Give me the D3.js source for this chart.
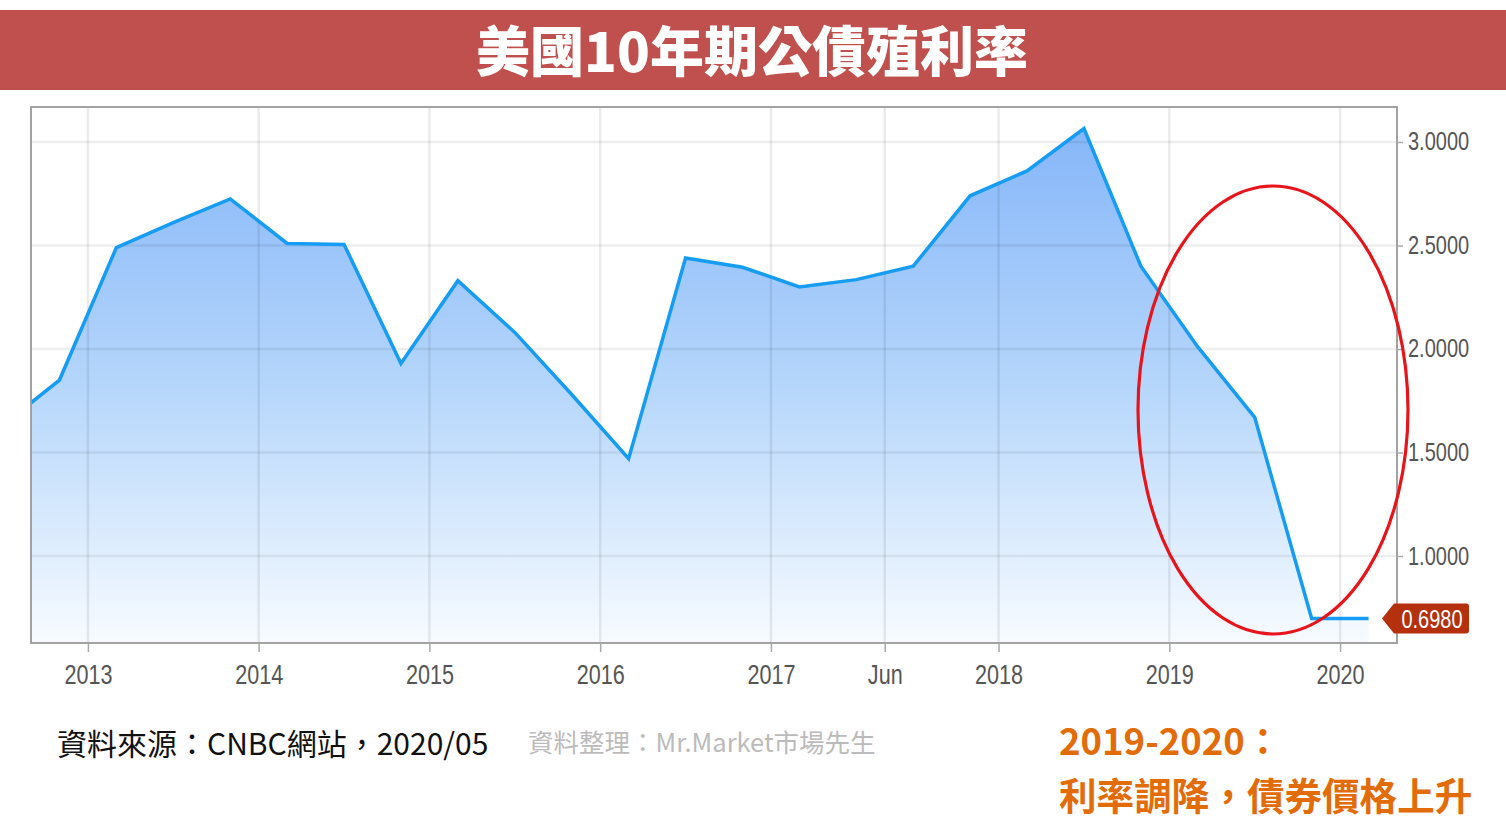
<!DOCTYPE html>
<html><head><meta charset="utf-8">
<script src="https://cdn.jsdelivr.net/npm/d3@7"></script>
<style>
html,body{margin:0;padding:0;background:#fff;}
svg{display:block;}
</style></head>
<body>
<svg id="chart" width="1506" height="839"></svg>
<script>
// ---- data ----
const titleText = "美國10年期公債殖利率";
// period position (index along evenly spaced sample points) and yield values
const periods = [-0.5, 0, 1, 2, 3, 4, 5, 6, 7, 8, 9, 10, 11, 12, 13, 14, 15, 16, 17, 18, 19, 20, 21, 22, 23];
const yields  = [1.74, 1.85, 2.49, 2.61, 2.725, 2.51, 2.505, 1.93, 2.33, 2.08, 1.78, 1.47, 2.44, 2.395, 2.30, 2.335, 2.40, 2.74, 2.86, 3.065, 2.40, 2.01, 1.67, 0.698, 0.698];
const xTickLabels = ["2013", "2014", "2015", "2016", "2017", "Jun", "2018", "2019", "2020"];
const xTickPos    = [0.5, 3.5, 6.5, 9.5, 12.5, 14.5, 16.5, 19.5, 22.5];
const yTicks = [1.0, 1.5, 2.0, 2.5, 3.0];
const lastValue = 0.698;
const sourceText = "資料來源：CNBC網站，2020/05";
const creditText = "資料整理：Mr.Market市場先生";
const noteLine1 = "2019-2020：";
const noteLine2 = "利率調降，債券價格上升";

const data = periods.map((p, i) => ({p, v: yields[i]}));

// ---- layout ----
const svg = d3.select("#chart");
const L = 31, R = 1397, T = 107, B = 643;
const x = d3.scaleLinear().domain([-0.5, 23.5]).range([L, R]);
const y = d3.scaleLinear().domain([0.5797, 3.169]).range([B, T]);
const cjk = "'Noto Sans CJK TC','Noto Sans CJK SC',sans-serif";
const numFont = "'Liberation Sans',Arial,sans-serif";
const squeeze = 0.8;

// title banner
svg.append("rect").attr("x", 0).attr("y", 10).attr("width", 1506).attr("height", 80).attr("fill", "#C0504D");
svg.append("text").attr("x", 752).attr("y", 72).attr("text-anchor", "middle")
  .attr("font-family", cjk).attr("font-weight", 900)
  .attr("font-size", 54).attr("fill", "#fff").text(titleText);

// gradient
const defs = svg.append("defs");
const grad = defs.append("linearGradient").attr("id", "fillGrad")
  .attr("gradientUnits", "userSpaceOnUse").attr("x1", 0).attr("x2", 0)
  .attr("y1", y(3.07)).attr("y2", B);
grad.append("stop").attr("offset", "0%").attr("stop-color", "#86B6F9");
grad.append("stop").attr("offset", "50%").attr("stop-color", "#B5D6FB");
grad.append("stop").attr("offset", "100%").attr("stop-color", "#F7FBFF");
defs.append("clipPath").attr("id", "plotClip").append("rect")
  .attr("x", L).attr("y", T).attr("width", R - L).attr("height", B - T);

const plot = svg.append("g").attr("clip-path", "url(#plotClip)");

// area
plot.append("path").datum(data)
  .attr("d", d3.area().x(d => x(d.p)).y0(B).y1(d => y(d.v)))
  .attr("fill", "url(#fillGrad)");

// gridlines (drawn over fill)
plot.append("g").selectAll("line").data(yTicks).join("line")
  .attr("x1", L).attr("x2", R).attr("y1", d => y(d)).attr("y2", d => y(d))
  .attr("stroke", "rgba(0,0,0,0.065)").attr("stroke-width", 2.5);
plot.append("g").selectAll("line").data(xTickPos).join("line")
  .attr("x1", d => x(d)).attr("x2", d => x(d)).attr("y1", T).attr("y2", B)
  .attr("stroke", "rgba(0,0,0,0.08)").attr("stroke-width", 2.5);

// line
plot.append("path").datum(data)
  .attr("d", d3.line().x(d => x(d.p)).y(d => y(d.v)))
  .attr("fill", "none").attr("stroke", "#169CF2").attr("stroke-width", 3.5)
  .attr("stroke-linejoin", "miter");

// frame
svg.append("rect").attr("x", L).attr("y", T).attr("width", R - L).attr("height", B - T)
  .attr("fill", "none").attr("stroke", "#9a9a9a").attr("stroke-width", 1.8);

// x axis
const xAxis = d3.axisBottom(x).tickValues(xTickPos)
  .tickFormat((d, i) => xTickLabels[i]).tickSize(9).tickPadding(13);
const gx = svg.append("g").attr("transform", `translate(0,${B})`).call(xAxis);
gx.select(".domain").remove();
gx.selectAll(".tick line").attr("stroke", "#aaa").attr("stroke-width", 1.5);
gx.selectAll(".tick text").attr("fill", "#555").attr("font-size", 27).attr("font-family", numFont)
  .attr("transform", `scale(${squeeze},1)`);

// y axis right
const yAxis = d3.axisRight(y).tickValues(yTicks).tickFormat(d3.format(".4f")).tickSize(6).tickPadding(5);
const gy = svg.append("g").attr("transform", `translate(${R},0)`).call(yAxis);
gy.select(".domain").remove();
gy.selectAll(".tick line").attr("stroke", "#aaa").attr("stroke-width", 1.5);
gy.selectAll(".tick text").attr("fill", "#555").attr("font-size", 25).attr("font-family", numFont)
  .attr("x", 11 / squeeze).attr("transform", `scale(${squeeze},1)`);

// last value tag
const ty = y(lastValue);
const tag = svg.append("g").attr("transform", `translate(0,${ty})`);
tag.append("path")
  .attr("d", `M1382,0 L1394,-15 L1466,-15 Q1469,-15 1469,-12 L1469,12 Q1469,15 1466,15 L1394,15 Z`)
  .attr("fill", "#B5310E");
tag.append("text").attr("x", 1432 / squeeze).attr("y", 9).attr("text-anchor", "middle")
  .attr("transform", `scale(${squeeze},1)`)
  .attr("fill", "#fff").attr("font-size", 25).attr("font-family", numFont).text(d3.format(".4f")(lastValue));

// red ellipse annotation
svg.append("ellipse").attr("cx", 1273).attr("cy", 410).attr("rx", 135).attr("ry", 224)
  .attr("fill", "none").attr("stroke", "#E8141B").attr("stroke-width", 3.2);

// footer texts
svg.append("text").attr("x", 57).attr("y", 755)
  .attr("font-family", cjk).attr("font-size", 30).attr("fill", "#111")
  .text(sourceText);
svg.append("text").attr("x", 528).attr("y", 752)
  .attr("font-family", cjk).attr("font-size", 25.5).attr("fill", "#BBBBBB")
  .text(creditText);

svg.append("text").attr("x", 1059).attr("y", 755)
  .attr("font-family", cjk).attr("font-weight", 700).attr("font-size", 36.5)
  .attr("fill", "#E36C0A").text(noteLine1);
svg.append("text").attr("x", 1059).attr("y", 810)
  .attr("font-family", cjk).attr("font-weight", 700).attr("font-size", 37.6)
  .attr("fill", "#E36C0A").text(noteLine2);
</script>
</body></html>
